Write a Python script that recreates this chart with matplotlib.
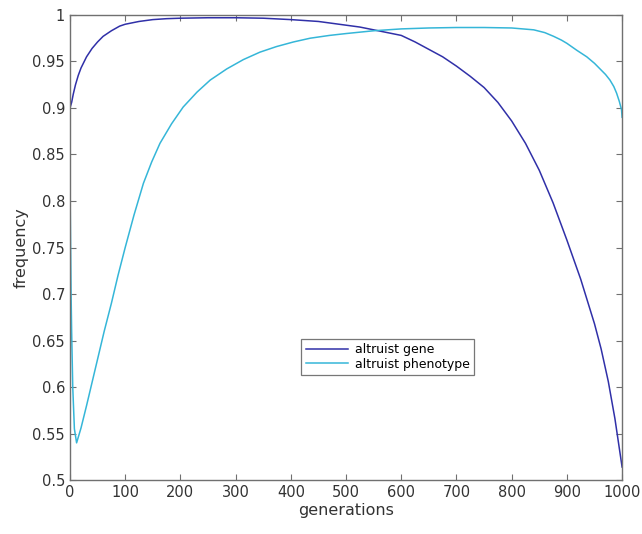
import numpy as np
import matplotlib
matplotlib.use("Agg")
import matplotlib.pyplot as plt

# values
gen_gene = [0, 3, 6, 10, 15, 20, 30, 40, 50, 60, 75, 90, 100, 125, 150, 175,
            200, 250, 300, 350, 400, 450, 500, 525, 550, 575, 600, 625, 650,
            675, 700, 725, 750, 775, 800, 825, 850, 875, 900, 925, 950, 962,
            975, 987, 1000]
gene = [0.900, 0.906, 0.915, 0.925, 0.935, 0.943, 0.955, 0.964, 0.971, 0.977,
        0.983, 0.988, 0.990, 0.993, 0.995, 0.996, 0.9965, 0.997, 0.997,
        0.9965, 0.995, 0.993, 0.989, 0.987, 0.984, 0.981, 0.978, 0.971,
        0.963, 0.955, 0.945, 0.934, 0.922, 0.906, 0.886, 0.862, 0.833, 0.798,
        0.758, 0.716, 0.668, 0.641, 0.606, 0.566, 0.514]

gen_pheno = [0, 1, 2, 3, 5, 8, 12, 20, 30, 40, 50, 62, 75, 87, 100, 116, 133,
             148, 163, 184, 205, 230, 254, 284, 314, 344, 374, 405, 435, 470,
             500, 550, 600, 650, 700, 750, 800, 820, 840, 860, 876, 890, 900,
             918, 936, 950, 960, 970, 978, 985, 990, 995, 999, 1000]
pheno = [0.822, 0.760, 0.700, 0.660, 0.600, 0.555, 0.540, 0.556, 0.580, 0.605,
         0.630, 0.660, 0.690, 0.720, 0.750, 0.785, 0.819, 0.842, 0.862, 0.883,
         0.901, 0.917, 0.930, 0.942, 0.952, 0.960, 0.966, 0.971, 0.975, 0.978,
         0.980, 0.983, 0.985, 0.986, 0.9865, 0.9865, 0.986, 0.985, 0.984,
         0.981, 0.977, 0.973, 0.9695, 0.962, 0.955, 0.948, 0.942, 0.936,
         0.930, 0.923, 0.916, 0.907, 0.898, 0.890]

xticks = np.arange(0, 1001, 100)
yticks = np.arange(0.5, 1.001, 0.05)
ytick_labels = ["0.5", "0.55", "0.6", "0.65", "0.7", "0.75", "0.8", "0.85",
                "0.9", "0.95", "1"]

fig = plt.figure(figsize=(6.42, 5.34), dpi=100)
ax = fig.add_axes([0.109, 0.101, 0.860, 0.871])

ax.plot(gen_gene, gene, color="#3030a8", lw=1.1, label="altruist gene")
ax.plot(gen_pheno, pheno, color="#35b6d8", lw=1.1, label="altruist phenotype")

ax.set_xlim(0, 1000)
ax.set_ylim(0.5, 1.0)
ax.set_xticks(xticks)
ax.set_yticks(yticks)
ax.set_yticklabels(ytick_labels)

for s in ax.spines.values():
    s.set_color("#707070")
    s.set_linewidth(1.0)
ax.tick_params(direction="in", top=True, right=True, length=4,
               color="#707070", labelcolor="#333333", labelsize=10.5)
ax.set_xlabel("generations", fontsize=11.5, color="#333333", labelpad=2)
ax.set_ylabel("frequency", fontsize=11.5, color="#333333", labelpad=3)

leg = ax.legend(loc="lower left", bbox_to_anchor=(0.408, 0.212),
                fontsize=9, frameon=True, fancybox=False, handlelength=3.4,
                borderpad=0.35, labelspacing=0.15, handletextpad=0.5)
leg.get_frame().set_edgecolor("#555555")
leg.get_frame().set_linewidth(0.9)

fig.savefig("out.png", dpi=100)
